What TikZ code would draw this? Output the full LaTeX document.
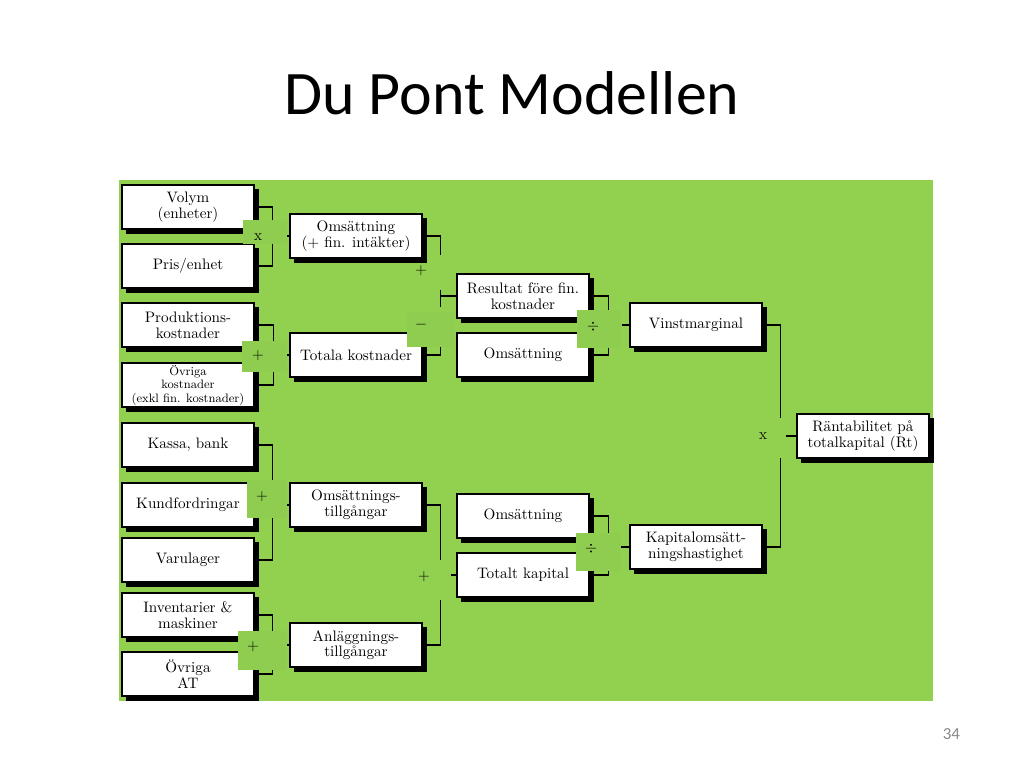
\documentclass[tikz,border=0pt]{standalone}
\usepackage{fontspec}
\usetikzlibrary{shadows}
\newfontfamily\slidefont{Carlito}
\definecolor{slidegreen}{RGB}{146,208,80}
\definecolor{patchgreen}{RGB}{142,205,79}
\definecolor{pagegray}{RGB}{137,137,137}

\begin{document}
\begin{tikzpicture}[
  x=0.025cm,y=-0.025cm,
  box/.style={draw,line width=0.8pt,fill=white,align=center,minimum width=3.3cm,minimum height=1.1cm,inner sep=1pt,
    font=\fontsize{10.8}{11.2}\selectfont,
    copy shadow={shadow xshift=0.11cm,shadow yshift=-0.11cm,fill=black,draw=black}},
  op/.style={font=\fontsize{11}{12}\selectfont,inner sep=0pt},
  link/.style={line width=1pt}
]
  \fill[white] (0,0) rectangle (1024,768);
  \useasboundingbox (0,0) rectangle (1024,768);
  \node[font=\slidefont\fontsize{44}{50}\selectfont,anchor=base] (title) at (512,115) {Du Pont Modellen};
  \node[font=\slidefont\fontsize{12}{14}\selectfont,text=pagegray,anchor=base east] (page) at (965,739) {34};
  \fill[slidegreen] (119,180) rectangle (933,701);

  % first column
  \node[box] (volym) at (188,207) {Volym\\(enheter)};
  \node[box] (pris) at (188,266) {Pris/enhet};
  \node[box] (prod) at (188,325) {Produktions-\\kostnader};
  \node[box,font=\fontsize{8.7}{9.6}\selectfont] (ovrk) at (188,385) {Övriga\\kostnader\\(exkl fin. kostnader)};
  \node[box] (kassa) at (188,445) {Kassa, bank};
  \node[box] (kund) at (188,505) {Kundfordringar};
  \node[box] (varu) at (188,560) {Varulager};
  \node[box] (inv) at (188,615) {Inventarier \&\\maskiner};
  \node[box] (ovrat) at (188,674) {Övriga\\AT};

  % second column
  \node[box] (omsfin) at (356,236) {Omsättning\\(+ fin. intäkter)};
  \node[box] (totk) at (356,355) {Totala kostnader};
  \node[box] (omstg) at (356,505) {Omsättnings-\\tillgångar};
  \node[box] (anltg) at (356,645) {Anläggnings-\\tillgångar};

  % third column
  \node[box] (resfin) at (523,296) {Resultat före fin.\\kostnader};
  \node[box] (oms1) at (523,355) {Omsättning};
  \node[box] (oms2) at (523,516) {Omsättning};
  \node[box] (totkap) at (523,575) {Totalt kapital};

  % ratios
  \node[box] (vinst) at (696,325) {Vinstmarginal};
  \node[box] (kapoms) at (696,547) {Kapitalomsätt-\\ningshastighet};
  \node[box] (rt) at (863,436) {Räntabilitet på\\totalkapital (Rt)};

  % brackets
  \draw[link] (volym.east) -| ++(18,13);
  \draw[link] (pris.east) -| ++(18,-23);
  \draw[link] (omsfin.west) -- ++(-7,0);
  \draw[link] (prod.east) -| ++(19,16);
  \draw[link] (ovrk.east) -| ++(19,-14);
  \draw[link] (totk.west) -- ++(-7,0);
  \draw[link] (kassa.east) -| ++(18,35);
  \draw[link] (varu.east) -| ++(18,-42);
  \draw[link] (omstg.west) -- ++(-7,0);
  \draw[link] (inv.east) -| ++(18,16);
  \draw[link] (ovrat.east) -| ++(18,-4);
  \draw[link] (anltg.west) -- ++(-8,0);

  \draw[link] (omsfin.east) -| ++(18,19);
  \draw[link] (totk.east) -| ++(18,-8);
  \draw[link] (resfin.west) -- ++(-16,0) -- ++(0,-6) -- ++(0,17);
  \draw[link] (resfin.east) -| ++(19,14);
  \draw[link] (oms1.east) -| ++(19,-7);
  \draw[link] (vinst.west) -- ++(-7,0);
  \draw[link] (omstg.east) -| ++(18,55);
  \draw[link] (anltg.east) -| ++(18,-45);
  \draw[link] (totkap.west) -- ++(-5,0);
  \draw[link] (oms2.east) -| ++(19,17);
  \draw[link] (totkap.east) -| ++(19,-4);
  \draw[link] (kapoms.west) -- ++(-8,0);
  \draw[link] (vinst.east) -| ++(18,93);
  \draw[link] (kapoms.east) -| ++(18,-89);
  \draw[link] (rt.west) -- ++(-10,0);

  % patches behind the operators
  \fill[patchgreen] (243,220) rectangle (287,244);
  \fill[patchgreen] (242,341) rectangle (287,372);
  \fill[patchgreen] (247,480) rectangle (287,518);
  \fill[patchgreen] (238,631) rectangle (287,670);
  \fill[patchgreen] (407,312) rectangle (454,347);
  \fill[patchgreen] (577,310) rectangle (621,348);
  \fill[patchgreen] (576,533) rectangle (621,571);

  \node[op] (opvp) at (258,237) {x};
  \node[op] (opkost) at (258,356) {+};
  \node[op] (opomst) at (262,497) {+};
  \node[op] (opanl) at (253,647) {+};
  \node[op] (opplus) at (421,271) {+};
  \node[op] (opminus) at (421,325) {$-$};
  \node[op] (opvinst) at (593,327) {$\div$};
  \node[op] (optot) at (424,577) {+};
  \node[op] (opkap) at (591,549) {$\div$};
  \node[op] (oprt) at (763,436) {x};
\end{tikzpicture}
\end{document}
